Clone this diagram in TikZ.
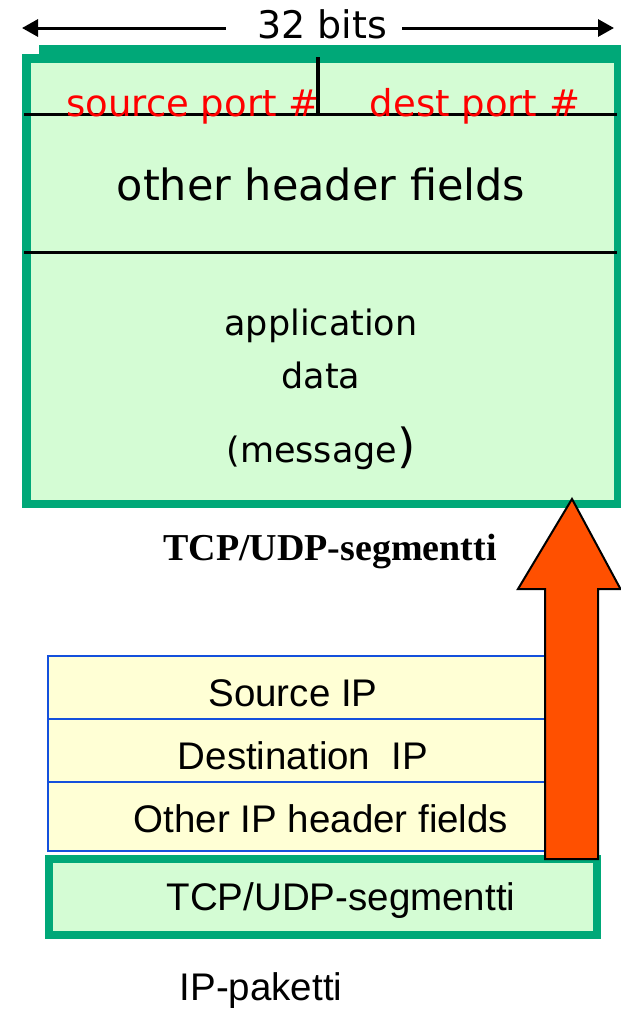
\documentclass[tikz,border=0pt]{standalone}
\usepackage{fontspec}
\setmainfont{Liberation Sans}
\newfontfamily\comic{DejaVu Sans}
\newfontfamily\tms{Liberation Serif}
\usetikzlibrary{arrows.meta}
\definecolor{boxgreen}{RGB}{0,168,120}
\definecolor{fillgreen}{RGB}{212,252,212}
\definecolor{fillyellow}{RGB}{255,255,213}
\definecolor{lineblue}{RGB}{20,80,220}
\definecolor{arroworange}{RGB}{255,80,0}
\tikzset{
  lbl/.style={inner sep=0pt, anchor=base},
  comictxt/.style={lbl, font=\comic\fontsize{35}{40}\selectfont},
  arialtxt/.style={lbl, font=\fontsize{38.5}{42}\selectfont},
  redtxt/.style={lbl, text=red, font=\comic\fontsize{37}{40}\selectfont},
  dimarrow/.style={line width=3pt, -{Triangle[length=16pt,width=17pt]}},
  rule/.style={line width=3pt, black},
  segbox/.style={draw=boxgreen, fill=fillgreen},
  ipbox/.style={draw=lineblue, fill=fillyellow, line width=2.5pt},
  bigarrow/.style={fill=arroworange, draw=black, line width=2pt, line join=miter}
}
\begin{document}
\begin{tikzpicture}[x=1pt,y=-1pt]
\path[use as bounding box] (0,0) rectangle (621,1010);

% top segment box
\fill[boxgreen] (39,45) rectangle (621,58);
\draw[segbox, line width=8.5pt] (26.25,58.5) rectangle (618.25,504);
\draw[rule] (24,114) -- (617,114);
\draw[rule, line width=3.5pt] (318,57) -- (318,114);
\draw[rule] (24,252) -- (617,252);

% 32 bits dimension
\node[comictxt, font=\comic\fontsize{38}{40}\selectfont] (bits) at (322,38) {32 bits};
\coordinate (bl) at (22,28);
\coordinate (br) at (614,28);
\draw[dimarrow] ([xshift=-31pt]bits.west |- bl) -- (bl);
\draw[dimarrow] ([xshift=15pt]bits.east |- br) -- (br);

% IP packet
\draw[ipbox] (48,656) rectangle (560,851);
\draw[lineblue, line width=2.5pt] (48,719) -- (560,719);
\draw[lineblue, line width=2.5pt] (48,782) -- (560,782);
\draw[segbox, line width=8pt] (49,859) rectangle (597,935);

% big arrow
\draw[bigarrow] (545,859) -- (545,589) -- (518,589) -- (572,499) -- (620.5,589) -- (598,589) -- (598,859) -- cycle;

% texts
\node[redtxt] (src) at (193,116) {source port \#};
\node[redtxt] (dst) at (475,116) {dest port \#};
\node[comictxt, font=\comic\fontsize{43}{46}\selectfont] (other) at (321,200) {other header fields};
\node[comictxt] (app) at (321,335) {application};
\node[comictxt] (data) at (321,388) {data};
\node[comictxt] (msg) at (321,462) {(message{\fontsize{47}{50}\selectfont)}};
\node[lbl, font=\tms\bfseries\fontsize{38}{40}\selectfont] (seg) at (330,560) {TCP/UDP-segmentti};

\node[arialtxt] (sip) at (293,706) {Source IP};
\node[arialtxt] (dip) at (303,769) {Destination~~IP};
\node[arialtxt] (oip) at (321,832) {Other IP header fields};
\node[arialtxt] (seg2) at (341,910) {TCP/UDP-segmentti};
\node[arialtxt] (pkt) at (261,1000) {IP-paketti};
\end{tikzpicture}
\end{document}
